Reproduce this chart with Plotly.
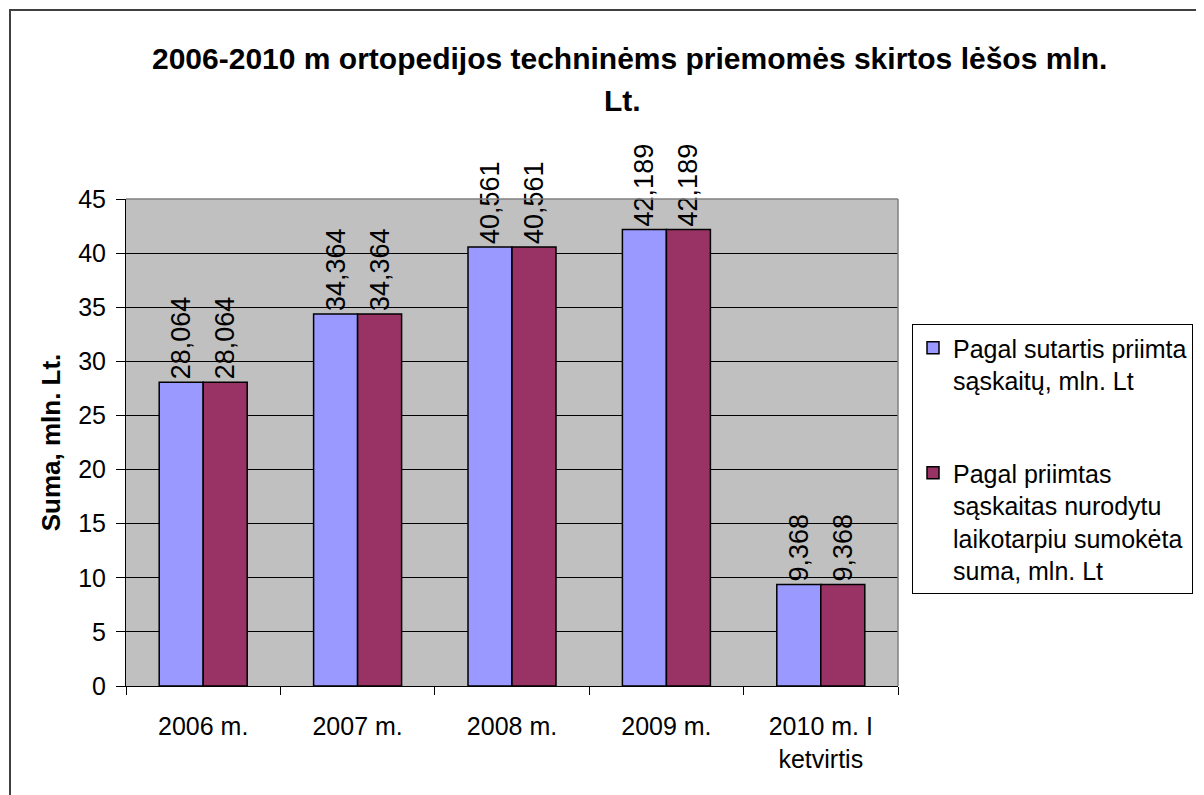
import plotly.graph_objects as go

categories = ["2006 m.", "2007 m.", "2008 m.", "2009 m.", "2010 m. I<br>ketvirtis"]
series1_name = "Pagal sutartis priimta<br>sąskaitų, mln. Lt"
series2_name = "Pagal priimtas<br>sąskaitas nurodytu<br>laikotarpiu sumokėta<br>suma, mln. Lt"
series1 = [28.064, 34.364, 40.561, 42.189, 9.368]
series2 = [28.064, 34.364, 40.561, 42.189, 9.368]
title_line1 = "2006-2010 m ortopedijos techninėms priemomės skirtos lėšos mln."
title_line2 = "Lt."
y_title = "Suma, mln. Lt."
y_ticks = [0, 5, 10, 15, 20, 25, 30, 35, 40, 45]

FONT = "Arial, 'Liberation Sans', sans-serif"
OFF = 8  # page body margin in the browser
W, H = 1204, 795
# target screen positions of plot area: x 126..898, y 199..686
L, T = 126 - OFF, 199 - OFF
R = W - (898 - OFF)
B = H - (686 - OFF)
PW, PH = W - L - R, H - T - B


def px_x(x):  # screen px -> paper
    return (x - OFF - L) / PW


def px_y(y):
    return (H - B - (y - OFF)) / PH


fig = go.Figure()
for name, vals, color, grp in [
    (series1_name, series1, "#9999FF", "a"),
    (series2_name, series2, "#993366", "b"),
]:
    fig.add_trace(go.Bar(
        x=categories, y=vals, name=name, legendgroup=grp,
        marker=dict(color=color, line=dict(color="#000000", width=1.5)),
        texttemplate="%{y:.3f}", textposition="outside", textangle=-90,
        textfont=dict(family=FONT, size=27, color="#000000"),
        constraintext="none", cliponaxis=False,
    ))

fig.update_layout(
    width=W, height=H,
    margin=dict(l=L, r=R, t=T, b=B, autoexpand=False),
    paper_bgcolor="#FFFFFF", plot_bgcolor="#C0C0C0",
    separators=", ",
    barmode="group", bargap=0.43, bargroupgap=0,
    font=dict(family=FONT, size=25, color="#000000"),
    showlegend=True,
    legend=dict(
        x=px_x(912), y=px_y(324), xanchor="left", yanchor="top",
        xref="paper", yref="paper",
        bgcolor="#FFFFFF", bordercolor="#000000", borderwidth=1,
        font=dict(family=FONT, size=25, color="#000000"),
        traceorder="grouped", tracegroupgap=57, valign="top",
        itemwidth=30, entrywidth=320, entrywidthmode="pixels",
    ),
    xaxis=dict(
        type="category", range=[-0.5, 4.5],
        showline=True, linecolor="#000000", linewidth=1,
        ticks="outside", tickson="boundaries", ticklen=8, tickcolor="#000000",
        tickfont=dict(family=FONT, size=25, color="#000000"),
        showgrid=False, mirror=False, ticklabelstandoff=18,
    ),
    yaxis=dict(
        range=[0, 45], tickvals=y_ticks, ticks="outside", ticklen=9,
        tickcolor="#000000", showline=True, linecolor="#000000", linewidth=1,
        showgrid=True, gridcolor="#000000", gridwidth=1,
        tickfont=dict(family=FONT, size=25, color="#000000"),
        ticklabelstandoff=5, zeroline=False,
        title=dict(text="<b>" + y_title + "</b>", standoff=10,
                   font=dict(family=FONT, size=26, color="#000000")),
    ),
)

# plot area border (top and right, grey)
fig.add_shape(type="line", xref="paper", yref="paper", x0=0, x1=1, y0=1, y1=1,
              line=dict(color="#808080", width=1.5))
fig.add_shape(type="line", xref="paper", yref="paper", x0=1, x1=1, y0=0, y1=1,
              line=dict(color="#808080", width=1.5))
# outer chart border
fig.add_shape(type="rect", xref="paper", yref="paper",
              x0=px_x(10), x1=px_x(1260), y0=px_y(10), y1=px_y(840),
              line=dict(color="#404040", width=2), layer="below")

fig.add_annotation(text="<b>" + title_line1 + "</b>", xref="paper", yref="paper",
                   x=px_x(629), y=px_y(58), xanchor="center", yanchor="middle",
                   showarrow=False, font=dict(family=FONT, size=30, color="#000000"))
fig.add_annotation(text="<b>" + title_line2 + "</b>", xref="paper", yref="paper",
                   x=px_x(622), y=px_y(100), xanchor="center", yanchor="middle",
                   showarrow=False, font=dict(family=FONT, size=30, color="#000000"))

fig.write_html("out.html")
